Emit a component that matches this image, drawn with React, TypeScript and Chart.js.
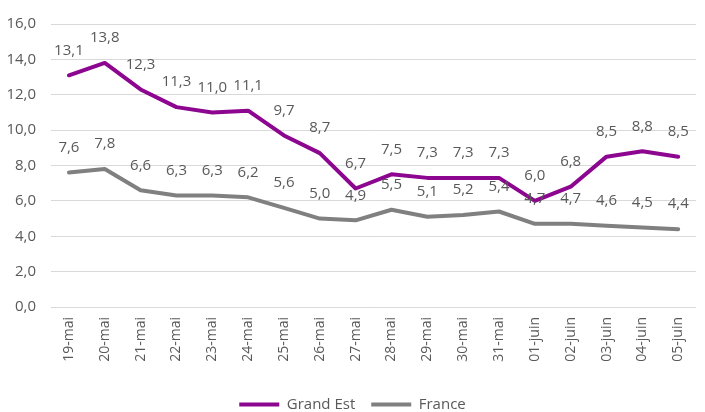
import React, { useEffect, useRef } from "react";
import { Chart, registerables } from "chart.js";

Chart.register(...registerables);

const categories = [
  "19-mai", "20-mai", "21-mai", "22-mai", "23-mai", "24-mai", "25-mai", "26-mai", "27-mai",
  "28-mai", "29-mai", "30-mai", "31-mai", "01-juin", "02-juin", "03-juin", "04-juin", "05-juin",
];
const grandEst = [13.1, 13.8, 12.3, 11.3, 11.0, 11.1, 9.7, 8.7, 6.7, 7.5, 7.3, 7.3, 7.3, 6.0, 6.8, 8.5, 8.8, 8.5];
const france = [7.6, 7.8, 6.6, 6.3, 6.3, 6.2, 5.6, 5.0, 4.9, 5.5, 5.1, 5.2, 5.4, 4.7, 4.7, 4.6, 4.5, 4.4];
const seriesNames = ["Grand Est", "France"];
const yMin = 0;
const yMax = 16;
const yStep = 2;

const TEXT = "#595959";
const FONT = "'Open Sans'";
const fmt = (v: number) => v.toFixed(1).replace(".", ",");

const dataLabels = {
  id: "dataLabels",
  afterDatasetsDraw(chart: any) {
    const ctx = chart.ctx;
    ctx.save();
    ctx.font = `15px ${FONT}`;
    ctx.fillStyle = TEXT;
    ctx.textAlign = "center";
    ctx.textBaseline = "middle";
    chart.data.datasets.forEach((ds: any, i: number) => {
      const meta = chart.getDatasetMeta(i);
      meta.data.forEach((pt: any, j: number) => {
        ctx.fillText(fmt(ds.data[j]), pt.x, pt.y - 25);
      });
    });
    ctx.restore();
  },
};

export default function App() {
  const ref = useRef<HTMLCanvasElement>(null);
  useEffect(() => {
    const chart = new Chart(ref.current!, {
      type: "line",
      data: {
        labels: categories,
        datasets: [
          {
            label: seriesNames[0],
            data: grandEst,
            borderColor: "#8c068f",
            backgroundColor: "#8c068f",
            borderWidth: 4,
            pointRadius: 0,
            tension: 0,
            borderJoinStyle: "round",
            borderCapStyle: "round",
          },
          {
            label: seriesNames[1],
            data: france,
            borderColor: "#808080",
            backgroundColor: "#808080",
            borderWidth: 4,
            pointRadius: 0,
            tension: 0,
            borderJoinStyle: "round",
            borderCapStyle: "round",
          },
        ],
      },
      options: {
        responsive: false,
        animation: false,
        layout: { padding: { top: 14, right: 0, bottom: -10, left: 0 } },
        plugins: {
          legend: {
            position: "bottom",
            labels: {
              boxWidth: 40,
              boxHeight: 4,
              padding: 16,
              color: TEXT,
              font: { family: FONT, size: 15 },
              generateLabels: (chart: any) =>
                Chart.defaults.plugins.legend.labels.generateLabels(chart).map((l: any) => ({
                  ...l,
                  lineWidth: 0,
                  strokeStyle: "transparent",
                })),
            },
          },
          tooltip: { enabled: false },
        },
        scales: {
          x: {
            offset: true,
            afterFit: (axis: any) => {
              axis.height = 74;
            },
            grid: { display: false, drawTicks: false },
            border: { display: false },
            ticks: {
              maxRotation: 90,
              minRotation: 90,
              padding: 10,
              color: TEXT,
              font: { family: FONT, size: 14 },
              autoSkip: false,
            },
          },
          y: {
            min: yMin,
            max: yMax,
            afterFit: (axis: any) => {
              axis.width = 51;
            },
            grid: { color: "#d9d9d9", lineWidth: 1, drawTicks: false },
            border: { display: false },
            ticks: {
              stepSize: yStep,
              padding: 15,
              color: TEXT,
              font: { family: FONT, size: 15 },
              callback: (v: any) => fmt(Number(v)),
            },
          },
        },
      },
      plugins: [dataLabels],
    });
    return () => chart.destroy();
  }, []);
  return (
    <div style={{ position: "absolute", left: 0, top: 0, width: 705, height: 412, background: "#fff" }}>
      <canvas ref={ref} width={705} height={412} style={{ display: "block" }} />
    </div>
  );
}
